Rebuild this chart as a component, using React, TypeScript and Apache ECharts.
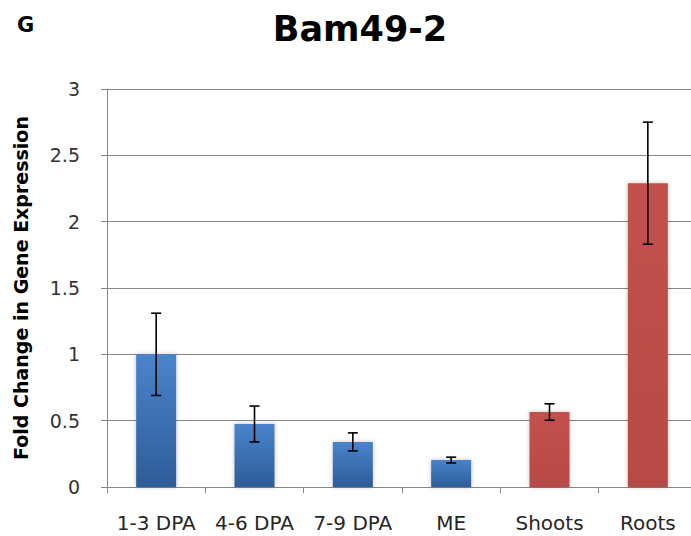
import React, { useEffect, useRef } from "react";
import * as echarts from "echarts";

const categories = ["1-3 DPA", "4-6 DPA", "7-9 DPA", "ME", "Shoots", "Roots"];
const values = [1.0, 0.475, 0.34, 0.203, 0.565, 2.29];
const errors = [0.31, 0.135, 0.068, 0.022, 0.062, 0.46];
const barKinds = ["blue", "blue", "blue", "blue", "red", "red"];
const yTicks = [0, 0.5, 1, 1.5, 2, 2.5, 3];

const FONT = "'DejaVu Sans', sans-serif";

export default function App() {
  const ref = useRef<HTMLDivElement>(null);
  useEffect(() => {
    if (!ref.current) return;
    const chart = echarts.init(ref.current, null, { renderer: "svg" });
    const blue = new echarts.graphic.LinearGradient(0, 0, 0, 1, [
      { offset: 0, color: "#4a84cc" },
      { offset: 1, color: "#2d5c98" },
    ]);
    const red = new echarts.graphic.LinearGradient(0, 0, 0, 1, [
      { offset: 0, color: "#c2514e" },
      { offset: 1, color: "#b84a47" },
    ]);
    const errData = values.map((v, i) => [i, v - errors[i], v + errors[i]]);
    chart.setOption({
      animation: false,
      title: [
        {
          text: "Bam49-2",
          left: 355,
          top: 6,
          textAlign: "center",
          textStyle: { fontFamily: FONT, fontSize: 35, fontWeight: "bold", color: "#000" },
        },
        {
          text: "G",
          left: 12,
          top: 9,
          textStyle: { fontFamily: FONT, fontSize: 21, fontWeight: "bold", color: "#000" },
        },
      ],
      grid: { left: 107, top: 89, right: 1, bottom: 49, containLabel: false },
      xAxis: {
        type: "category",
        data: categories,
        axisLine: { lineStyle: { color: "#868686", width: 1 } },
        axisTick: { show: true, length: 6, lineStyle: { color: "#868686" }, alignWithLabel: false },
        axisLabel: { interval: 0, fontFamily: FONT, fontSize: 20, color: "#262626", margin: 26 },
      },
      yAxis: {
        type: "value",
        min: yTicks[0],
        max: yTicks[yTicks.length - 1],
        interval: 0.5,
        name: "Fold Change in Gene Expression",
        nameLocation: "middle",
        nameRotate: 90,
        nameGap: 77,
        nameTextStyle: { fontFamily: FONT, fontSize: 19, fontWeight: "bold", color: "#000" },
        axisLine: { show: true, lineStyle: { color: "#868686", width: 1 } },
        axisTick: { show: true, length: 6, lineStyle: { color: "#868686" } },
        axisLabel: { fontFamily: FONT, fontSize: 19, color: "#333", margin: 27 },
        splitLine: { show: true, lineStyle: { color: "#868686", width: 1 } },
      },
      series: [
        {
          type: "bar",
          barWidth: 40,
          data: values.map((v, i) => ({
            value: v,
            itemStyle: {
              color: barKinds[i] === "blue" ? blue : red,
              shadowBlur: 4,
              shadowColor: "rgba(0,0,0,0.25)",
            },
          })),
        },
        {
          type: "custom",
          data: errData,
          z: 10,
          renderItem: (params: any, api: any) => {
            const x = api.value(0);
            const lo = api.coord([x, api.value(1)]);
            const hi = api.coord([x, api.value(2)]);
            const cap = 5;
            const style = { stroke: "#000", lineWidth: 1.6 };
            return {
              type: "group",
              children: [
                { type: "line", shape: { x1: hi[0], y1: hi[1], x2: lo[0], y2: lo[1] }, style },
                { type: "line", shape: { x1: hi[0] - cap, y1: hi[1], x2: hi[0] + cap, y2: hi[1] }, style },
                { type: "line", shape: { x1: lo[0] - cap, y1: lo[1], x2: lo[0] + cap, y2: lo[1] }, style },
              ],
            };
          },
        },
      ],
    });
    return () => chart.dispose();
  }, []);
  return (
    <div
      ref={ref}
      style={{ position: "fixed", left: 0, top: 0, width: 698, height: 536, background: "#fff" }}
    />
  );
}
